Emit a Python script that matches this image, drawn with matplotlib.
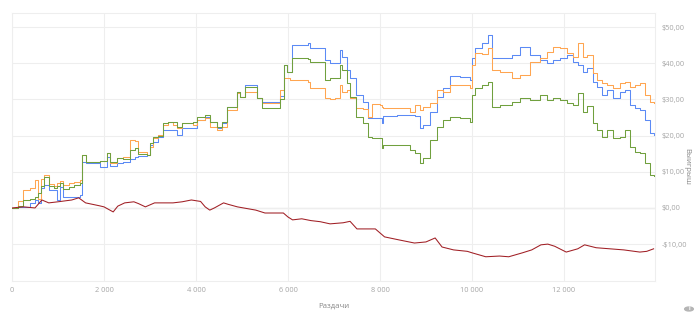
import matplotlib
matplotlib.use("Agg")
import matplotlib.pyplot as plt
from matplotlib.patches import Circle
from matplotlib.ticker import FuncFormatter

plt.rcParams["font.family"] = ["Open Sans", "DejaVu Sans"]

# shared hand counts for the three upper curves
hands = [0, 120, 240, 400, 500, 560, 640, 700, 800, 920, 980, 1050, 1110, 1250,
         1350, 1480, 1520, 1600, 1800, 1910, 2065, 2130, 2280, 2410, 2565, 2670,
         2740, 2935, 3000, 3065, 3175, 3280, 3390, 3500, 3590, 3700, 3935, 4020,
         4195, 4300, 4455, 4565, 4675, 4800, 4890, 4955, 5065, 5240, 5325, 5435,
         5780, 5825, 5915, 5980, 6045, 6085, 6435, 6480, 6695, 6805, 6915, 7020,
         7130, 7175, 7280, 7350, 7480, 7630, 7740, 7825, 8000, 8045, 8065, 8370,
         8650, 8760, 8870, 8935, 9085, 9240, 9370, 9520, 9740, 9955, 10000, 10065,
         10215, 10350, 10420, 10435, 10610, 10870, 11045, 11260, 11480, 11630,
         11760, 11915, 12065, 12195, 12305, 12410, 12500, 12630, 12720, 12825,
         12935, 13065, 13215, 13325, 13440, 13545, 13650, 13760, 13870, 13950]

orange = [0, 2.0, 5.0, 5.5, 7.7, 2.5, 8.0, 9.1, 6.5, 6.2, 7.0, 7.5, 6.4, 6.8,
          7.2, 7.6, 14.6, 12.8, 12.6, 13.0, 15.2, 12.4, 13.8, 14.0, 18.8, 18.5,
          15.5, 14.6, 16.9, 19.3, 20.2, 22.9, 23.8, 22.9, 22.1, 23.5, 22.9, 24.3,
          24.9, 22.4, 21.5, 22.4, 27.1, 27.1, 31.8, 30.7, 32.0, 32.0, 30.5, 29.0,
          29.0, 32.6, 36.0, 35.9, 35.4, 35.4, 34.8, 33.1, 33.1, 30.4, 30.0, 30.4,
          34.0, 32.0, 32.6, 30.4, 27.6, 27.3, 25.1, 28.7, 28.5, 28.0, 27.6, 27.6,
          26.5, 28.5, 27.0, 27.9, 29.0, 32.6, 32.0, 34.0, 34.0, 33.1, 39.5, 42.8,
          42.5, 44.2, 44.2, 38.1, 37.6, 35.9, 36.7, 40.3, 41.4, 43.1,
          44.5, 44.2, 42.8, 41.7, 45.6, 41.7, 42.3, 37.3, 35.4, 34.5,
          34.0, 33.1, 34.5, 34.8, 33.4, 34.0, 34.5, 31.2, 29.3, 29.0]

green = [0, 0.5, 2.2, 2.5, 3.0, 4.0, 6.0, 8.6, 6.0, 5.5, 6.2, 6.8, 5.2, 5.8,
         6.4, 7.0, 14.6, 12.8, 12.8, 13.0, 15.2, 12.8, 13.8, 13.5, 16.0, 16.5,
         15.0, 14.6, 18.0, 19.6, 20.0, 23.5, 23.8, 23.8, 22.4, 23.5, 23.8, 25.1,
         25.7, 23.8, 22.4, 23.8, 27.9, 27.9, 32.0, 30.7, 33.4, 33.4, 30.5, 27.6,
         27.6, 30.0, 39.5, 37.6, 37.6, 41.4, 41.2, 40.3, 40.3, 35.5, 36.0, 35.9,
         39.5, 38.1, 34.5, 30.7, 25.1, 23.5, 19.6, 19.3, 19.3, 16.6, 17.4, 17.4,
         16.0, 15.2, 12.4, 13.8, 18.8, 22.4, 24.3, 25.1, 24.9, 23.8, 31.2, 33.1,
         34.0, 34.8, 34.8, 27.9, 28.5, 29.3, 30.4, 29.8, 31.2, 29.8,
         30.4, 29.8, 29.0, 28.5, 31.8, 26.5, 28.2, 23.5, 21.5, 19.6,
         21.5, 19.3, 19.6, 21.5, 16.9, 15.5, 15.2, 12.4, 9.1, 8.8]

blue = [0, 0.2, 0.3, 1.5, 2.2, 1.4, 5.5, 6.4, 5.0, 5.0, 2.2, 5.8, 3.0, 3.0,
        3.0, 3.5, 12.7, 12.4, 12.4, 11.3, 14.0, 11.5, 12.5, 12.7, 13.5, 14.1,
        14.3, 14.6, 17.4, 18.2, 19.6, 21.5, 21.5, 21.5, 20.2, 22.1, 22.1, 24.3,
        25.1, 23.8, 22.1, 23.6, 27.9, 27.9, 32.0, 30.7, 34.0, 34.0, 30.5, 29.3,
        29.3, 31.0, 39.5, 37.6, 37.6, 45.0, 45.6, 44.2, 44.2, 40.9, 40.1, 40.1,
        43.6, 41.7, 38.1, 35.9, 31.2, 29.3, 24.9, 24.9, 24.9, 23.5, 25.4, 25.7,
        25.7, 25.4, 22.1, 23.0, 26.5, 30.7, 33.1, 36.5, 36.2, 35.4, 41.4, 44.2,
        45.6, 47.8, 47.8, 41.4, 41.4, 42.3, 44.5, 42.3, 40.9, 40.1,
        40.9, 41.4, 42.3, 40.3, 39.5, 37.6, 38.7, 34.8, 33.4, 31.2,
        32.6, 30.4, 32.0, 32.6, 28.5, 27.6, 27.1, 24.3, 20.7, 20.3]

# lower curve has its own sampling
red_hands = [0, 250, 500, 650, 800, 1000, 1300, 1450, 1600, 1900, 2000, 2200,
             2300, 2450, 2650, 2750, 2900, 3100, 3500, 3700, 3900, 4100, 4200,
             4300, 4400, 4600, 4700, 4900, 5300, 5500, 5900, 6000, 6100, 6300,
             6500, 6700, 6915, 7200, 7350, 7500, 7900, 8100, 8400, 8750, 9000,
             9200, 9350, 9600, 9900, 10000, 10300, 10600, 10800, 11100, 11300,
             11500, 11650, 11800, 12050, 12300, 12450, 12700, 13000, 13300,
             13650, 13800, 13950]
red = [0, 0.3, 0.0, 2.2, 1.4, 1.7, 2.2, 2.8, 1.4, 0.6, 0.3, -1.1,
       0.5, 1.4, 1.7, 1.2, 0.3, 1.4, 1.4, 1.7, 2.2, 1.8, 0.3,
       -0.6, 0.0, 1.4, 1.0, 0.3, -0.6, -1.4, -1.4, -2.5, -3.3, -3.0,
       -3.5, -3.8, -4.4, -4.1, -3.7, -5.8, -5.8, -8.0, -8.8, -9.7, -9.4,
       -8.3, -10.8, -11.6, -12.0, -12.4, -13.5, -13.3, -13.5, -12.4, -11.6,
       -10.2, -10.0, -10.6, -12.2, -11.3, -10.2, -11.0, -11.3, -11.6,
       -12.2, -12.0, -11.3]

x_ticks = [0, 2000, 4000, 6000, 8000, 10000, 12000]
y_ticks = [-10, 0, 10, 20, 30, 40, 50]

fig = plt.figure(figsize=(7, 3.16), dpi=100)
ax = fig.add_axes([12 / 700, 35 / 316, 643 / 700, 268 / 316])

grid_c = "#eeeeee"
lbl_c = "#a6a6a6"

ax.axhline(0, color="#b4b4b4", lw=0.8, zorder=1)
ax.plot(hands, orange, color="#ffa550", lw=0.75, drawstyle="steps-post", zorder=3)
ax.plot(hands, green, color="#70a03e", lw=0.75, drawstyle="steps-post", zorder=4)
ax.plot(hands, blue, color="#5b8af5", lw=0.75, drawstyle="steps-post", zorder=2)
ax.plot(red_hands, red, color="#a01e24", lw=0.75, zorder=5)

ax.set_xlim(0, 13980)
ax.set_ylim(-20.2, 53.9)
ax.set_xticks(x_ticks)
ax.set_yticks(y_ticks)
ax.xaxis.set_major_formatter(FuncFormatter(lambda v, p: f"{int(v):,}".replace(",", " ")))


def money(v, p):
    s = f"${abs(v):.2f}".replace(".", ",")
    return "-" + s if v < 0 else s


ax.yaxis.set_major_formatter(FuncFormatter(money))
ax.yaxis.tick_right()
ax.yaxis.set_label_position("right")
ax.tick_params(length=0, labelsize=5.3, labelcolor=lbl_c, pad=4.5)
ax.grid(True, color=grid_c, lw=0.8, zorder=0)
for s in ax.spines.values():
    s.set_color(grid_c)
    s.set_linewidth(0.8)

ax.set_xlabel("Раздачи", fontsize=5.6, color="#888888", labelpad=6)
ax.set_ylabel("Выигрыш", fontsize=5.6, color="#888888", rotation=270, va="center")
ax.yaxis.set_label_coords((687 - 12) / 643, (316 - 166 - 35) / 268)

# little info badge bottom right
fig.add_artist(Circle((689 / 700, 1 - 309 / 316), 0.0062, transform=fig.transFigure,
                      color="#b5b5b5"))
fig.text(689 / 700, 1 - 309 / 316, "i", fontsize=4, color="white", ha="center",
         va="center", weight="bold")

fig.savefig("out.png", dpi=100)
